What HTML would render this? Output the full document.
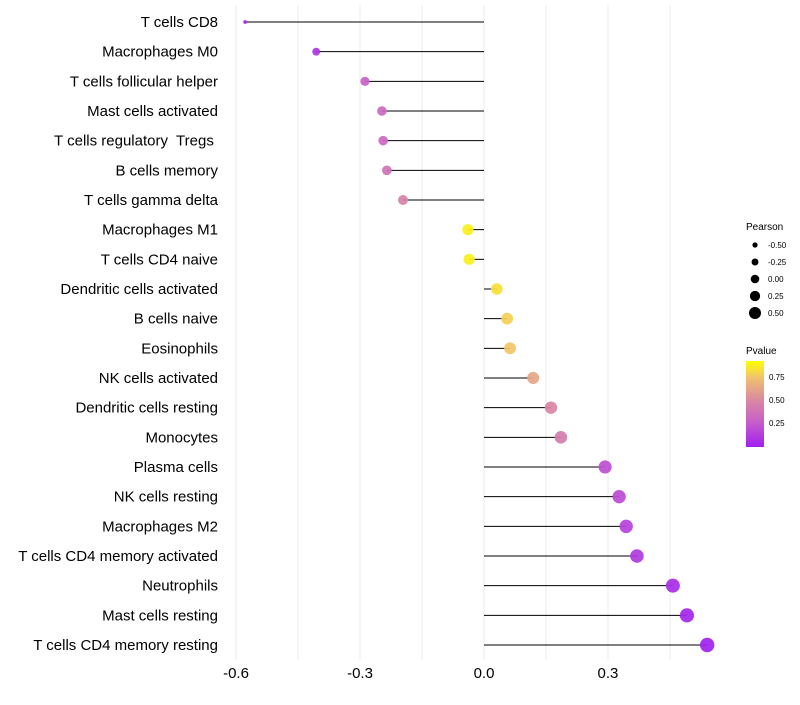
<!DOCTYPE html>
<html><head><meta charset="utf-8"><style>
body{margin:0;background:#fff;}
svg text{font-family:"Liberation Sans",sans-serif;white-space:pre;}
</style></head><body>
<svg id="chart" width="800" height="700" xmlns="http://www.w3.org/2000/svg">
<g id="grid"></g>
<g id="marks"></g>
<g id="ylabels"></g>
<g id="xlabels"></g>
<g id="legend">
<text x="746" y="230" font-size="10">Pearson</text>
<defs><linearGradient id="pg" x1="0" y1="1" x2="0" y2="0">
<stop offset="0" stop-color="#a020f0"/><stop offset="0.3" stop-color="#c860c8"/><stop offset="0.55" stop-color="#da8aa0"/><stop offset="0.8" stop-color="#f0c070"/><stop offset="1" stop-color="#ffff00"/>
</linearGradient></defs>
<text x="746" y="354" font-size="10">Pvalue</text>
<rect x="746" y="361" width="18" height="86" fill="url(#pg)"/>
<text x="769" y="380" font-size="8">0.75</text>
<text x="769" y="403" font-size="8">0.50</text>
<text x="769" y="426" font-size="8">0.25</text>
</g>
</svg>
<script>
const cells=["T cells CD8","Macrophages M0","T cells follicular helper","Mast cells activated","T cells regulatory  Tregs ","B cells memory","T cells gamma delta","Macrophages M1","T cells CD4 naive","Dendritic cells activated","B cells naive","Eosinophils","NK cells activated","Dendritic cells resting","Monocytes","Plasma cells","NK cells resting","Macrophages M2","T cells CD4 memory activated","Neutrophils","Mast cells resting","T cells CD4 memory resting"];
const pearson=[-0.578,-0.406,-0.288,-0.247,-0.244,-0.235,-0.196,-0.039,-0.036,0.031,0.056,0.063,0.119,0.162,0.186,0.293,0.327,0.344,0.370,0.457,0.491,0.540];
const pvalue=[0.03,0.1,0.3,0.35,0.35,0.4,0.5,0.95,0.95,0.9,0.85,0.82,0.68,0.52,0.47,0.22,0.2,0.16,0.12,0.06,0.03,0.01];
const xTicks=[-0.6,-0.3,0.0,0.3];
const xTickLabels=["-0.6","-0.3","0.0","0.3"];
const gridVals=[-0.6,-0.45,-0.3,-0.15,0,0.15,0.3,0.45];
const legendVals=[-0.5,-0.25,0,0.25,0.5];
const legendLabels=["-0.50","-0.25","0.00","0.25","0.50"];

const NS="http://www.w3.org/2000/svg";
const x=v=>484+v*413.3;
const y=i=>22+i*(623/(cells.length-1));
const pmin=Math.min(...pearson),pmax=Math.max(...pearson);
const r=v=>1.9+5.3*Math.sqrt(Math.max(0,(v-pmin)/(pmax-pmin)));
const stops=[[0,[160,32,240]],[0.3,[200,96,200]],[0.55,[218,138,160]],[0.8,[240,192,112]],[1,[255,255,0]]];
function col(p){for(let k=1;k<stops.length;k++){if(p<=stops[k][0]){const a=stops[k-1],b=stops[k];const t=(p-a[0])/(b[0]-a[0]);const c=a[1].map((u,j)=>Math.round(u+(b[1][j]-u)*t));return `rgb(${c})`;}}return "rgb(255,255,0)";}
function mk(t,attrs,parent){const e=document.createElementNS(NS,t);for(const k in attrs)e.setAttribute(k,attrs[k]);parent.appendChild(e);return e;}
const grid=document.getElementById('grid'),marks=document.getElementById('marks'),yl=document.getElementById('ylabels'),xl=document.getElementById('xlabels'),lg=document.getElementById('legend');
gridVals.forEach(g=>{const l=mk('line',{x1:x(g),x2:x(g),y1:5,y2:660,stroke:'#ebebeb','stroke-width':1},grid);

});
cells.forEach((c,i)=>{
const s=mk('line',{x1:x(0),x2:x(pearson[i]),y1:y(i),y2:y(i),stroke:'#000','stroke-width':1},marks);


const p=mk('circle',{cx:x(pearson[i]),cy:y(i),r:r(pearson[i]),fill:col(pvalue[i]),'fill-opacity':0.92},marks);


const t=mk('text',{x:218,y:y(i)+5,'text-anchor':'end','font-size':15,fill:'#000'},yl);t.textContent=c;

});
xTicks.forEach((v,i)=>{const t=mk('text',{x:x(v),y:678,'text-anchor':'middle','font-size':15,fill:'#000'},xl);t.textContent=xTickLabels[i];

});
legendVals.forEach((v,i)=>{const cy=245+i*17;const c=mk('circle',{cx:755,cy:cy,r:2.6+i*0.85,fill:'#000'},lg);


const t=mk('text',{x:768,y:cy+3,'font-size':8},lg);t.textContent=legendLabels[i];

});
</script>
</body></html>
